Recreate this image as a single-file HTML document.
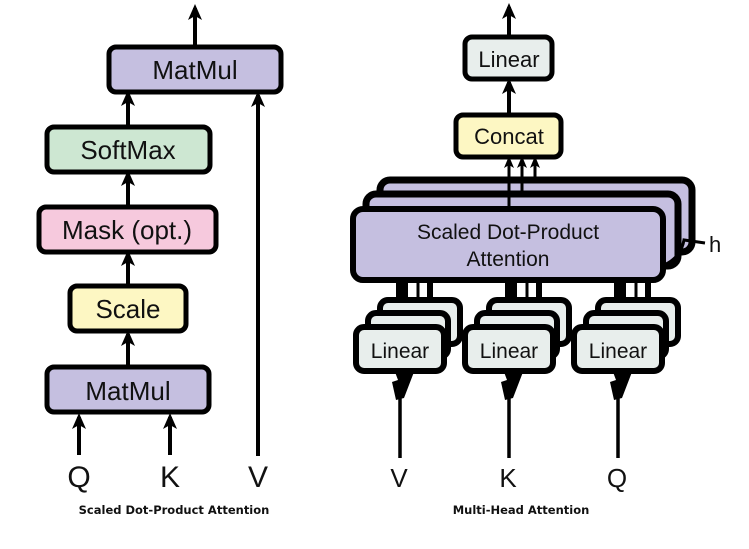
<!DOCTYPE html>
<html><head><meta charset="utf-8"><style>
html,body{margin:0;padding:0;background:#fff;}
svg{display:block;}
text{font-family:"Liberation Sans",sans-serif;fill:#111;}
.cap{font-family:"DejaVu Sans","Liberation Sans",sans-serif;font-size:11.5px;font-weight:bold;}
</style></head><body>
<svg width="749" height="549" viewBox="0 0 749 549" xmlns="http://www.w3.org/2000/svg">
<defs>
<marker id="ah" markerWidth="16" markerHeight="14" refX="12" refY="7" orient="auto" markerUnits="userSpaceOnUse">
<path d="M0,0 L16,7 L0,14 L4,7 z" fill="#000"/></marker>
<marker id="as" markerWidth="12" markerHeight="10" refX="9" refY="5" orient="auto" markerUnits="userSpaceOnUse">
<path d="M0,0 L12,5 L0,10 L3,5 z" fill="#000"/></marker>
</defs>
<g stroke="#000" stroke-width="4" fill="none">
<line x1="195" y1="45" x2="195" y2="8" marker-end="url(#ah)"/>
<line x1="128" y1="125" x2="128" y2="94" marker-end="url(#ah)"/>
<line x1="128" y1="205" x2="128" y2="174" marker-end="url(#ah)"/>
<line x1="128" y1="285" x2="128" y2="254" marker-end="url(#ah)"/>
<line x1="128" y1="365" x2="128" y2="334" marker-end="url(#ah)"/>
<line x1="79" y1="455" x2="79" y2="417" marker-end="url(#ah)"/>
<line x1="170" y1="455" x2="170" y2="417" marker-end="url(#ah)"/>
<line x1="258" y1="456" x2="258" y2="95" marker-end="url(#ah)"/>
</g>
<g stroke="#000" stroke-width="5">
<rect x="109" y="47" width="172" height="45" rx="7" fill="#c5bfe0"/>
<rect x="47" y="127" width="163" height="45" rx="7" fill="#cde7d2"/>
<rect x="39" y="207" width="177" height="45" rx="7" fill="#f6c9dd"/>
<rect x="70" y="286" width="116" height="45" rx="7" fill="#fdf7c3"/>
<rect x="47" y="367" width="162" height="45" rx="7" fill="#c5bfe0"/>
</g>
<g font-size="26" text-anchor="middle">
<text x="195" y="79">MatMul</text>
<text x="128" y="159">SoftMax</text>
<text x="127" y="239">Mask (opt.)</text>
<text x="128" y="318">Scale</text>
<text x="128" y="400">MatMul</text>
</g>
<g font-size="30" text-anchor="middle">
<text x="79" y="487">Q</text><text x="170" y="487">K</text><text x="258" y="487">V</text>
</g>
<text class="cap" x="174" y="514" text-anchor="middle">Scaled Dot-Product Attention</text>

<g stroke="#000" stroke-width="4" fill="none">
<line x1="509" y1="36" x2="509" y2="7" marker-end="url(#ah)"/>
<line x1="509" y1="114" x2="509" y2="82" marker-end="url(#ah)"/>
</g>
<g stroke="#000" stroke-width="3" fill="none">
<line x1="509" y1="210" x2="509" y2="159" marker-end="url(#as)"/>
<line x1="522" y1="190" x2="522" y2="159" marker-end="url(#as)"/>
<line x1="535" y1="180" x2="535" y2="159" marker-end="url(#as)"/>
</g>
<g stroke="#000" stroke-width="5">
<rect x="465" y="37" width="87" height="42" rx="7" fill="#e8eeec"/>
<rect x="456" y="115" width="105" height="42" rx="7" fill="#fdf7c3"/>
<rect x="380" y="180" width="312" height="72" rx="10" fill="#c5bfe0" stroke-width="7"/>
<rect x="366" y="194" width="312" height="72" rx="10" fill="#c5bfe0" stroke-width="7"/>
</g>
<g stroke="#000" stroke-width="3" fill="none">
<line x1="509" y1="210" x2="509" y2="180"/>
<line x1="522" y1="194" x2="522" y2="180"/>
<path d="M655,268 Q680,262 684,240 L705,243"/>
</g>
<g stroke="#000" stroke-width="6">
<rect x="353" y="209" width="310" height="71" rx="10" fill="#c5bfe0"/>
</g>
<text x="508" y="239" font-size="21" text-anchor="middle">Scaled Dot-Product</text>
<text x="508" y="266" font-size="21" text-anchor="middle">Attention</text>
<text x="509" y="67" font-size="22" text-anchor="middle">Linear</text>
<text x="509" y="144" font-size="22" text-anchor="middle">Concat</text>
<text x="709" y="252" font-size="22">h</text>

<g id="st">
<g stroke="#000" fill="none">
<line x1="400" y1="458" x2="400" y2="395" stroke-width="3.5"/>
<line x1="402" y1="300" x2="402" y2="282" stroke-width="12"/>
<line x1="405" y1="327" x2="405" y2="282" stroke-width="3"/>
<line x1="418" y1="305" x2="418" y2="282" stroke-width="3"/>
<line x1="430" y1="300" x2="430" y2="282" stroke-width="6"/>
</g>
<path d="M396,400 L392,382 L398,380 L395,372 L414,372 L404,398 z" fill="#000"/>
<g stroke="#000" stroke-width="6">
<rect x="380" y="300" width="80" height="44" rx="8" fill="#e8eeec"/>
<rect x="368" y="313" width="80" height="44" rx="8" fill="#e8eeec"/>
<rect x="356" y="327" width="88" height="44" rx="8" fill="#e8eeec"/>
</g>
<text x="400" y="358" font-size="21" text-anchor="middle">Linear</text>
</g>
<use href="#st" x="109"/>
<use href="#st" x="218"/>
<g font-size="26" text-anchor="middle">
<text x="399" y="487">V</text><text x="508" y="487">K</text><text x="617" y="487">Q</text>
</g>
<text class="cap" x="521" y="514" text-anchor="middle">Multi-Head Attention</text>
</svg>
</body></html>
